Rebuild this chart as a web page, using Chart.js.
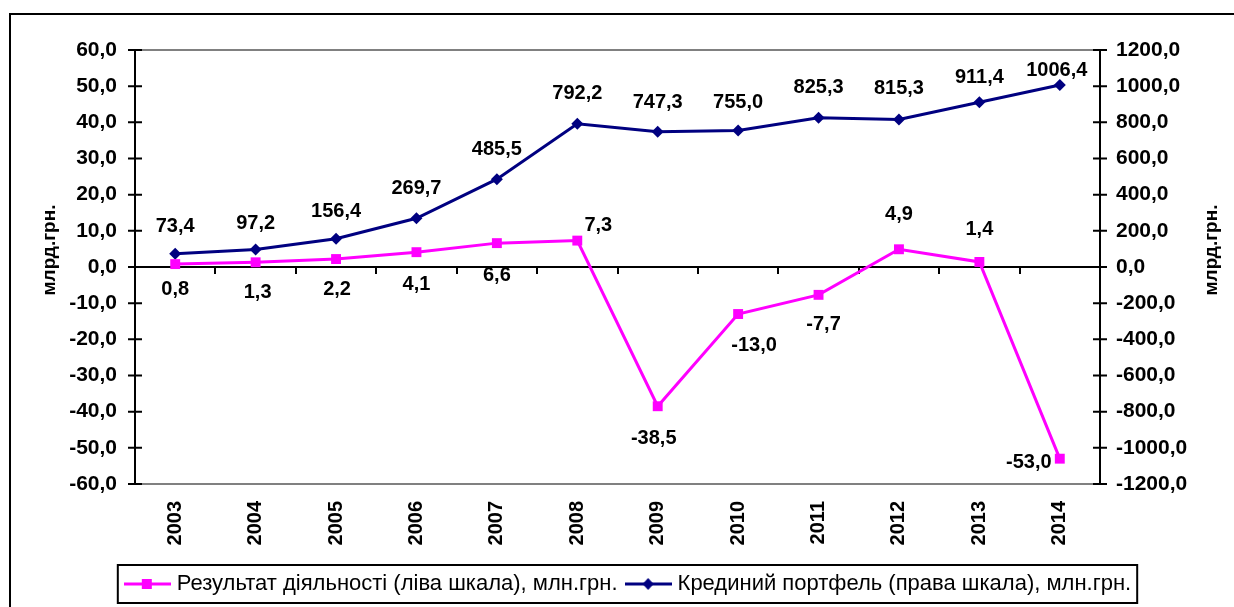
<!DOCTYPE html>
<html>
<head>
<meta charset="utf-8">
<script src="https://cdn.jsdelivr.net/npm/chart.js@4.4.1/dist/chart.umd.min.js"></script>
<style>
  html, body { margin: 0; padding: 0; background: #fff; }
</style>
</head>
<body>
<canvas id="chart" width="1234" height="607"></canvas>
<script>
// data
const years = ['2003', '2004', '2005', '2006', '2007', '2008', '2009', '2010', '2011', '2012', '2013', '2014'];
const result = [0.8, 1.3, 2.2, 4.1, 6.6, 7.3, -38.5, -13.0, -7.7, 4.9, 1.4, -53.0];
const portfolio = [73.4, 97.2, 156.4, 269.7, 485.5, 792.2, 747.3, 755.0, 825.3, 815.3, 911.4, 1006.4];
const leftTicks = { min: -60, max: 60, step: 10 };
const rightTicks = { min: -1200, max: 1200, step: 200 };
const seriesNames = ['Результат діяльності (ліва шкала), млн.грн.', 'Крединий портфель (права шкала), млн.грн.'];
const axisTitle = 'млрд.грн.';

// where each value label sits relative to its point (dx, dy)
const resultShift = [[0, 25], [2, 30], [1, 30], [0, 32], [0, 32], [21, -15], [-4, 32], [16, 31], [5, 30], [0, -35], [0, -32], [-31, 4]];
const portfolioShift = [[0, -27], [0, -26], [0, -27], [0, -30], [0, -30], [0, -30], [0, -29], [0, -28], [0, -30], [0, -31], [0, -25], [-3, -15]];

const pink = '#FF00FF';
const navy = '#000080';
const fontName = '"Liberation Sans", Arial, sans-serif';

function fmt(v) {
    return v.toFixed(1).replace('.', ',');
}

function legendMarker(color, shape) {
    var c = document.createElement('canvas');
    c.width = 47;
    c.height = 14;
    var g = c.getContext('2d');
    g.strokeStyle = color;
    g.lineWidth = 3;
    g.beginPath();
    g.moveTo(0, 7);
    g.lineTo(47, 7);
    g.stroke();
    g.fillStyle = color;
    if (shape == 'square') {
        g.fillRect(18, 2, 10, 10);
    } else {
        g.beginPath();
        g.moveTo(23.5, 1);
        g.lineTo(29, 7);
        g.lineTo(23.5, 13);
        g.lineTo(18, 7);
        g.closePath();
        g.fill();
    }
    return c;
}

const markers = [legendMarker(pink, 'square'), legendMarker(navy, 'diamond')];

const decor = {
    id: 'decor',
    beforeDraw(chart) {
        var ctx = chart.ctx;
        ctx.save();
        ctx.fillStyle = '#fff';
        ctx.fillRect(0, 0, chart.width, chart.height);
        ctx.restore();
    },
    beforeDatasetsDraw(chart) {
        var ctx = chart.ctx;
        var a = chart.chartArea;
        var y = chart.scales.y;
        var y1 = chart.scales.y1;
        ctx.save();
        ctx.strokeStyle = '#000';
        ctx.lineWidth = 2;
        // left and right axis lines with crossing ticks
        ctx.beginPath();
        ctx.moveTo(a.left, a.top);
        ctx.lineTo(a.left, a.bottom);
        ctx.moveTo(a.right, a.top);
        ctx.lineTo(a.right, a.bottom);
        y.ticks.forEach(t => {
            var py = y.getPixelForValue(t.value);
            ctx.moveTo(a.left - 7, py);
            ctx.lineTo(a.left + 7, py);
        });
        y1.ticks.forEach(t => {
            var py = y1.getPixelForValue(t.value);
            ctx.moveTo(a.right - 7, py);
            ctx.lineTo(a.right + 7, py);
        });
        // category axis sits on zero
        var y0 = y.getPixelForValue(0);
        ctx.moveTo(a.left, y0);
        ctx.lineTo(a.right, y0);
        var step = (a.right - a.left) / years.length;
        for (var i = 1; i < years.length; i++) {
            var px = Math.round(a.left + i * step);
            ctx.moveTo(px, y0);
            ctx.lineTo(px, y0 + 7);
        }
        ctx.stroke();
        ctx.restore();
    },
    afterDatasetsDraw(chart) {
        var ctx = chart.ctx;
        ctx.save();
        ctx.font = 'bold 20px ' + fontName;
        ctx.fillStyle = '#000';
        ctx.textAlign = 'center';
        ctx.textBaseline = 'middle';
        chart.data.datasets.forEach((ds, i) => {
            var meta = chart.getDatasetMeta(i);
            meta.data.forEach((pt, j) => {
                var s = ds.labelShift[j];
                ctx.fillText(fmt(ds.data[j]), pt.x + s[0], pt.y + s[1]);
            });
        });
        ctx.restore();
    },
    afterDraw(chart) {
        var ctx = chart.ctx;
        ctx.save();
        // outer frame
        ctx.strokeStyle = '#000';
        ctx.lineWidth = 2;
        ctx.strokeRect(10, 14, chart.width + 20, chart.height + 20);
        // axis titles, both read bottom to top
        ctx.font = 'bold 19px ' + fontName;
        ctx.fillStyle = '#000';
        ctx.textAlign = 'center';
        ctx.textBaseline = 'middle';
        [50, 1212].forEach(x => {
            ctx.save();
            ctx.translate(x, 250);
            ctx.rotate(-Math.PI / 2);
            ctx.fillText(axisTitle, 0, 0);
            ctx.restore();
        });
        // box round the legend
        var boxes = chart.legend.legendHitBoxes;
        if (boxes && boxes.length) {
            var l = boxes[0].left - 11;
            var last = boxes[boxes.length - 1];
            var r = last.left + last.width + 6;
            var cy = boxes[0].top + boxes[0].height / 2;
            ctx.lineWidth = 2;
            ctx.strokeRect(l, cy - 19, r - l, 38);
        }
        ctx.restore();
    }
};

new Chart(document.getElementById('chart'), {
    type: 'line',
    data: {
        labels: years,
        datasets: [{
            label: seriesNames[0],
            data: result,
            yAxisID: 'y',
            borderColor: pink,
            backgroundColor: pink,
            borderWidth: 3,
            pointStyle: 'rect',
            pointRadius: 7,
            pointHoverRadius: 7,
            pointBorderWidth: 0,
            tension: 0,
            labelShift: resultShift
        }, {
            label: seriesNames[1],
            data: portfolio,
            yAxisID: 'y1',
            borderColor: navy,
            backgroundColor: navy,
            borderWidth: 3,
            pointStyle: 'rectRot',
            pointRadius: 6,
            pointHoverRadius: 6,
            pointBorderWidth: 0,
            tension: 0,
            labelShift: portfolioShift
        }]
    },
    options: {
        responsive: false,
        animation: false,
        layout: { padding: { top: 50, left: 26, right: 0, bottom: 2 } },
        plugins: {
            tooltip: { enabled: false },
            legend: {
                position: 'bottom',
                labels: {
                    usePointStyle: true,
                    pointStyleWidth: 37,
                    padding: 12,
                    color: '#000',
                    font: { family: fontName, size: 22 },
                    generateLabels: function(chart) {
                        return chart.data.datasets.map((ds, i) => ({
                            text: ds.label,
                            pointStyle: markers[i],
                            fillStyle: ds.borderColor,
                            strokeStyle: ds.borderColor,
                            lineWidth: 0,
                            hidden: false,
                            datasetIndex: i,
                            fontColor: '#000'
                        }));
                    }
                }
            }
        },
        scales: {
            x: {
                offset: true,
                grid: { display: false },
                border: { display: false },
                ticks: {
                    autoSkip: false,
                    minRotation: 90,
                    maxRotation: 90,
                    padding: 9,
                    color: '#000',
                    font: { family: fontName, size: 20, weight: 'bold' }
                },
                afterFit: s => { s.height = 77; }
            },
            y: {
                position: 'left',
                min: leftTicks.min,
                max: leftTicks.max,
                ticks: {
                    stepSize: leftTicks.step,
                    padding: 18,
                    color: '#000',
                    font: { family: fontName, size: 21, weight: 'bold' },
                    callback: v => fmt(v)
                },
                grid: {
                    drawTicks: false,
                    lineWidth: 2,
                    color: c => (c.tick && Math.abs(c.tick.value) === 60) ? '#808080' : 'rgba(0,0,0,0)'
                },
                border: { display: false },
                afterFit: s => { s.width = 109; }
            },
            y1: {
                position: 'right',
                min: rightTicks.min,
                max: rightTicks.max,
                ticks: {
                    stepSize: rightTicks.step,
                    padding: 16,
                    color: '#000',
                    font: { family: fontName, size: 21, weight: 'bold' },
                    callback: v => fmt(v)
                },
                grid: { drawOnChartArea: false, drawTicks: false },
                border: { display: false },
                afterFit: s => { s.width = 134; }
            }
        }
    },
    plugins: [decor]
});
</script>
</body>
</html>
